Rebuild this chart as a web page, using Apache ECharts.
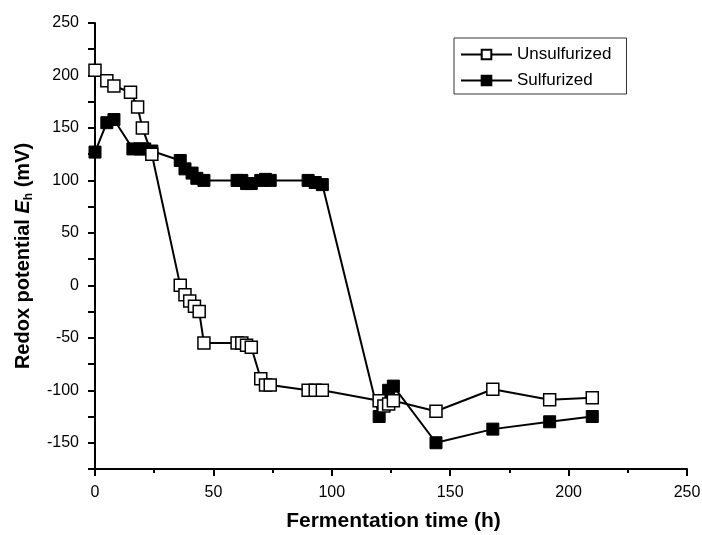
<!DOCTYPE html>
<html><head><meta charset="utf-8">
<script src="https://cdn.jsdelivr.net/npm/echarts@6/dist/echarts.min.js"></script>
<style>html,body{margin:0;padding:0;background:#fff}#c{width:702px;height:535px}</style>
</head><body><div id="c"></div>
<script>
var seriesNames = ['Unsulfurized', 'Sulfurized'];
var unsulfX = [0, 5, 8, 15, 18, 20, 24, 36, 38, 40, 42, 44, 46, 60, 62, 64, 66, 70, 72, 74, 90, 93, 96, 120, 122, 124, 126, 144, 168, 192, 210];
var unsulfY = [205, 195, 190, 184, 170, 150, 125, 0, -9, -15, -20, -25, -55, -55, -55, -57, -59, -89, -95, -95, -100, -100, -100, -110, -115, -113, -110, -120, -99, -109, -107];
var sulfX = [0, 5, 8, 16, 19, 21, 24, 36, 38, 41, 43, 46, 60, 62, 64, 66, 70, 72, 74, 90, 93, 96, 120, 124, 126, 144, 168, 192, 210];
var sulfY = [127, 155, 158, 130, 130, 130, 128, 119, 111, 107, 102, 100, 100, 100, 97, 97, 100, 101, 100, 100, 98, 96, -125, -100, -96, -150, -137, -130, -125];

function pairs(xs, ys) { return xs.map(function (x, i) { return [x, ys[i]]; }); }

var chart = echarts.init(document.getElementById('c'), null, {renderer: 'canvas'});
var font = 'Liberation Sans, Arial, sans-serif';
var minorAxisX = {
  type: 'value', min: 0, max: 250, interval: 25, position: 'bottom',
  axisLine: {show: false, onZero: false}, axisLabel: {show: false}, splitLine: {show: false},
  axisTick: {length: 4, lineStyle: {color: '#000', width: 2}}
};
var minorAxisY = {
  type: 'value', min: -175, max: 250, interval: 25, position: 'left',
  axisLine: {show: false, onZero: false}, axisLabel: {show: false}, splitLine: {show: false},
  axisTick: {length: 4, lineStyle: {color: '#000', width: 2}}
};
chart.setOption({
  animation: false,
  backgroundColor: '#fff',
  grid: {left: 95, right: 15, top: 23, bottom: 66, containLabel: false, outerBoundsMode: 'none'},
  legend: {
    left: 454, top: 38, orient: 'vertical',
    data: seriesNames,
    itemWidth: 51, itemHeight: 12, itemGap: 9,
    padding: [8, 15, 5, 6],
    borderColor: '#333', borderWidth: 1,
    textStyle: {fontFamily: font, fontSize: 17, color: '#000'}
  },
  xAxis: [{
    type: 'value', min: 0, max: 250, interval: 50, position: 'bottom',
    name: 'Fermentation time (h)', nameLocation: 'middle', nameGap: 42,
    nameTextStyle: {fontFamily: font, fontSize: 21, fontWeight: 'bold', color: '#000', padding: [0, 0, 0, 5]},
    axisLine: {onZero: false, lineStyle: {color: '#000', width: 2}},
    axisTick: {length: 7, lineStyle: {color: '#000', width: 2}},
    splitLine: {show: false},
    axisLabel: {fontFamily: font, fontSize: 16, color: '#000', margin: 16}
  }, minorAxisX],
  yAxis: [{
    type: 'value', min: -175, max: 250, interval: 25, position: 'left',
    name: '{a|Redox potential }{e|E}{s|h}{a| (mV)}', nameLocation: 'middle', nameGap: 60, nameRotate: 90,
    nameTextStyle: {
      padding: [0, 20, 0, 0],
      rich: {
        a: {fontFamily: font, fontSize: 20, fontWeight: 'bold', color: '#000'},
        e: {fontFamily: font, fontSize: 20, fontWeight: 'bold', fontStyle: 'italic', color: '#000'},
        s: {fontFamily: font, fontSize: 12, fontWeight: 'bold', color: '#000', padding: [11, 0, 0, 0]}
      }
    },
    axisLine: {onZero: false, lineStyle: {color: '#000', width: 2}},
    axisTick: {length: 7, lineStyle: {color: '#000', width: 2},
      interval: function (i, v) { return Number(v) % 50 === 0; }},
    splitLine: {show: false},
    axisLabel: {fontFamily: font, fontSize: 16, color: '#000', margin: 16,
      formatter: function (v) { return (v % 50 === 0) ? String(v) : ''; }}
  }, minorAxisY],
  series: [
    {
      name: seriesNames[1], type: 'line', data: pairs(sulfX, sulfY),
      xAxisIndex: 0, yAxisIndex: 0,
      symbol: 'rect', symbolSize: 12, showAllSymbol: true,
      lineStyle: {color: '#000', width: 2},
      itemStyle: {color: '#000', borderColor: '#000', borderWidth: 1}
    },
    {
      name: seriesNames[0], type: 'line', data: pairs(unsulfX, unsulfY),
      xAxisIndex: 0, yAxisIndex: 0,
      symbol: 'rect', symbolSize: 12, showAllSymbol: true,
      lineStyle: {color: '#000', width: 2},
      itemStyle: {color: '#fff', borderColor: '#000', borderWidth: 1.5}
    }
  ]
});
</script>
</body></html>
